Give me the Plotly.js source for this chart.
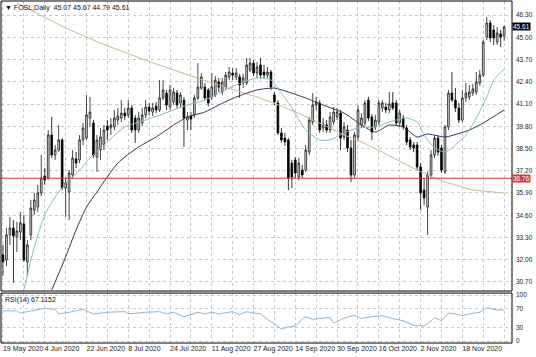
<!DOCTYPE html>
<html>
<head>
<meta charset="utf-8">
<script src="https://cdn.plot.ly/plotly-3.0.1.min.js"></script>
<style>html,body{margin:0;padding:0;background:#fff;}#chart{width:536px;height:357px;}</style>
</head>
<body>
<div id="chart"></div>
<script>
// ---- data (bar index 0 = 19 May 2020) ----
const openP = [
32.28,31.98,33.45,33.85,33.33,33.62,34.09,31.87,33.45,34.91,
35.08,35.90,36.89,36.78,39.29,38.12,38.41,39.00,36.19,35.96,
36.95,37.89,37.83,39.00,39.11,40.28,39.99,38.00,38.41,38.70,
39.81,39.70,39.76,40.16,40.28,40.57,40.46,40.87,40.28,39.58,
39.99,40.46,40.92,40.63,40.98,40.75,41.45,41.74,40.92,41.22,
41.74,41.16,41.33,40.16,40.40,40.46,41.45,42.03,42.09,41.92,
41.51,41.63,42.38,41.80,42.09,42.68,42.91,42.68,42.68,42.33,
42.33,43.09,43.49,42.91,43.38,42.97,42.79,42.97,41.63,41.16,
39.41,39.11,39.00,37.65,37.83,36.83,37.24,37.24,38.29,40.05,
41.04,41.16,39.70,39.87,39.58,40.05,40.34,40.57,39.17,39.58,
38.53,36.95,39.17,39.87,39.99,41.33,40.34,39.76,40.05,40.87,
40.92,40.75,41.16,41.16,39.99,40.28,39.70,39.00,38.70,38.70,
37.42,36.07,35.08,36.95,38.12,39.11,38.53,37.13,39.76,41.74,
41.33,40.87,40.16,41.45,41.51,41.74,41.80,42.33,42.79,45.01,
45.83,45.42,44.72,45.19,45.07];
const highP = [
32.86,33.85,34.50,34.32,34.21,34.79,34.61,33.15,35.49,35.90,
36.37,38.12,37.36,39.58,40.34,38.70,39.87,39.11,36.78,37.24,
38.41,38.29,39.29,39.99,41.63,41.51,40.16,39.29,39.70,39.87,
40.16,40.28,40.75,40.87,41.33,40.87,41.33,41.04,40.46,40.63,
40.87,41.33,41.16,41.16,41.22,42.50,42.50,41.92,42.21,42.03,
41.92,41.80,41.51,40.63,40.63,41.63,43.49,42.91,42.33,42.03,
42.91,42.73,42.62,42.62,42.97,43.26,43.20,43.20,42.85,42.85,
43.79,43.79,43.67,43.55,43.79,43.38,43.26,43.09,41.80,41.33,
39.70,39.41,39.11,37.83,38.00,37.94,37.54,38.70,40.34,41.74,
41.51,41.33,40.28,40.16,40.63,40.92,40.87,40.75,40.05,39.87,
39.00,39.46,41.04,40.57,41.33,41.51,40.51,40.46,41.33,41.33,
41.16,41.80,41.80,41.33,40.75,40.46,39.87,39.17,38.88,38.88,
37.65,36.78,37.13,38.41,39.29,39.29,38.70,39.87,41.92,42.97,
42.03,41.16,41.92,42.33,42.21,42.27,42.97,43.09,44.84,46.18,
46.01,45.71,45.60,45.42,45.67];
const lowP = [
31.05,31.63,32.86,30.64,32.45,33.15,31.87,31.05,33.15,34.61,
34.79,35.72,36.37,36.66,37.94,37.83,38.29,36.07,34.50,34.32,
36.78,37.36,37.65,38.70,39.00,39.76,37.94,37.13,37.83,38.41,
39.00,39.29,39.58,39.87,40.05,40.16,40.28,39.41,38.82,39.41,
39.81,40.28,40.46,40.40,40.57,40.63,41.33,40.75,40.75,41.04,
40.87,40.92,38.59,39.58,39.58,40.28,41.33,41.92,41.33,40.98,
41.33,41.51,41.80,41.63,41.92,42.50,42.50,42.50,41.45,42.03,
42.21,42.97,42.73,42.62,42.62,42.62,42.62,41.92,41.04,39.29,
38.82,38.65,36.07,36.19,36.78,36.66,36.78,37.13,38.12,39.87,
40.75,39.41,39.46,39.41,39.41,39.87,40.16,38.41,39.00,38.29,
36.54,36.78,39.00,39.70,39.81,40.11,39.00,39.58,39.87,40.63,
40.57,40.57,40.75,39.81,39.76,39.58,38.70,38.41,38.29,37.24,
34.91,35.20,33.45,36.78,37.94,38.06,37.07,37.01,39.58,41.22,
40.63,39.99,40.05,41.22,41.33,41.57,41.63,42.15,42.68,44.84,
44.72,44.55,44.55,44.43,44.79];
const closeP = [
31.87,33.45,33.85,33.39,33.68,34.15,31.98,32.86,35.02,35.49,
35.90,36.78,36.66,39.29,38.12,38.41,39.00,36.19,36.48,37.07,
37.94,37.65,39.00,39.70,40.46,40.63,38.12,39.00,39.17,39.58,
39.58,39.87,40.28,40.40,40.57,40.40,40.87,39.58,39.58,40.28,
40.46,40.92,40.69,40.87,40.75,41.45,41.92,41.04,41.92,41.80,
41.04,41.63,40.28,40.34,40.22,41.45,42.09,42.68,41.45,41.16,
42.09,42.50,42.09,42.38,42.79,42.97,42.79,42.91,42.21,42.62,
43.38,43.49,42.91,43.26,42.79,42.79,42.97,42.09,41.22,39.41,
39.00,38.88,36.78,36.83,37.07,37.65,36.95,38.41,40.16,41.04,
41.22,39.58,39.93,39.58,40.34,40.63,40.63,39.11,39.76,38.53,
36.95,39.29,40.75,40.28,41.16,40.28,39.46,40.16,41.16,41.16,
40.75,41.10,40.87,39.99,40.57,39.76,38.88,38.59,38.53,37.42,
35.90,35.61,36.95,38.12,39.11,38.29,37.24,39.76,41.74,41.33,
40.87,40.16,41.45,41.74,41.80,41.98,42.38,42.79,44.72,45.83,
44.96,44.96,45.25,45.01,45.61];

// moving averages (bar index, price)
const maFastIdx = [6,9,12,15,18,22,25,29,35,41,49,53,58,62,67,73,77,80,83,87,91,94,98,102,107,111,116,119,121,124,127,129,133,136,139,141,144];
const maFastVal = [30.23,32.74,34.61,35.67,36.43,37.24,37.94,38.70,39.76,40.16,40.75,41.04,41.33,41.74,42.21,42.62,42.50,41.74,40.87,39.58,39.00,39.00,39.41,39.70,39.76,40.05,40.28,40.05,39.29,38.53,38.29,38.53,39.29,40.28,41.51,42.50,43.14];
const maMidIdx = [14,18,21,24,27,33,39,44,49,53,58,62,67,73,78,82,87,92,98,103,107,111,115,119,122,127,134,138,144];
const maMidVal = [30.23,32.16,33.74,35.08,35.96,37.65,38.59,39.17,39.87,40.34,40.63,41.04,41.51,41.92,42.03,41.80,41.45,41.04,40.57,39.87,39.46,39.87,39.76,39.17,39.35,39.17,39.58,39.99,40.75];
const maSlowIdx = [4,18,28,40,49,60,73,80,88,98,103,109,116,122,127,135,144];
const maSlowVal = [47.00,45.54,44.66,43.73,43.09,42.33,41.51,40.98,40.28,39.29,38.88,38.29,37.54,36.95,36.54,36.07,35.90];

// RSI(14)
const rsiIdx = [0,4,5,9,12,15,16,19,23,26,30,35,36,41,45,47,49,52,56,58,60,62,66,68,70,72,74,76,78,80,82,84,86,87,89,91,94,95,98,101,103,106,109,112,115,118,121,123,124,126,128,130,132,134,137,139,140,142,144];
const rsiVal = [65.6,65.6,61,67.5,71,69,59,62.5,69,59,62.5,64,59,62.5,64,59,62.5,53,62.5,59,62.5,59,64,57.5,64,61,59,47,37.5,26,31,32,48,53,47,49,51,39,50,56,49,53,55,49,44,34,32.5,44,51,44,61,59,55,59,62.5,72,70,67.5,67.1152];

const dateLabels = ['19 May 2020','4 Jun 2020','22 Jun 2020','8 Jul 2020','24 Jul 2020','11 Aug 2020','27 Aug 2020','14 Sep 2020','30 Sep 2020','16 Oct 2020','2 Nov 2020','18 Nov 2020'];
const priceTicks = [30.70,32.00,33.30,34.60,35.90,37.20,38.50,39.80,41.10,42.40,43.70,45.00,46.30];
const rsiTicks = [0,30,70,100];
const levelLine = 36.76;
const lastPrice = 45.61;
const symbolTitle = 'FOSL,Daily';
const rsiTitle = 'RSI(14) 67.1152';

// ---- build ----
const barIdx = closeP.map((_, i) => i);
const xTickVals = [], xTickText = [];
for (let k = 0; k <= 144; k += 6) {
  xTickVals.push(k);
  xTickText.push(k % 12 === 0 && dateLabels[k / 12] ? dateLabels[k / 12] : '');
}

const FONT = 'Liberation Sans, Arial, sans-serif';
const mainDom = [0.152, 1];
const rsiDom = [0, 0.146];

const traces = [
  {type:'scatter', mode:'lines', x:maSlowIdx, y:maSlowVal, xaxis:'x', yaxis:'y',
   line:{color:'#cdb48e', width:1}, hoverinfo:'skip'},
  {type:'scatter', mode:'lines', x:maMidIdx, y:maMidVal, xaxis:'x', yaxis:'y',
   line:{color:'#33335c', width:1, shape:'spline', smoothing:0.6}, hoverinfo:'skip'},
  {type:'scatter', mode:'lines', x:maFastIdx, y:maFastVal, xaxis:'x', yaxis:'y',
   line:{color:'#86bdbd', width:1, shape:'spline', smoothing:0.6}, hoverinfo:'skip'},
  {type:'candlestick', x:barIdx, open:openP, high:highP, low:lowP, close:closeP,
   xaxis:'x', yaxis:'y', whiskerwidth:0,
   increasing:{line:{color:'#1a1a1a', width:0.8}, fillcolor:'#dcdcdc'},
   decreasing:{line:{color:'#000', width:0.8}, fillcolor:'#000'},
   hoverinfo:'skip'},
  {type:'scatter', mode:'lines', x:rsiIdx, y:rsiVal, xaxis:'x', yaxis:'y2',
   line:{color:'#8cb6d6', width:1}, hoverinfo:'skip'}
];

const gridStyle = {showgrid:true, gridcolor:'#c8c8c8', griddash:'dot', gridwidth:1, zeroline:false};

const layout = {
  width:536, height:357,
  margin:{l:1, r:24, t:1, b:14, pad:0},
  paper_bgcolor:'#fff', plot_bgcolor:'#fff',
  showlegend:false,
  font:{family:FONT, size:7, color:'#222'},
  xaxis:Object.assign({}, gridStyle, {
    range:[-0.57, 146.26], anchor:'y2', tickvals:xTickVals, ticktext:xTickText,
    ticks:'', tickangle:0, ticklabelposition:'outside right', ticklabelstandoff:0,
    tickfont:{size:7, family:FONT, color:'#222'},
    rangeslider:{visible:false}, showline:false, fixedrange:true, automargin:false
  }),
  yaxis:Object.assign({}, gridStyle, {
    domain:mainDom, range:[30.17, 47.12], side:'right', anchor:'x',
    tickvals:priceTicks, ticktext:priceTicks.map(v => v.toFixed(2)),
    ticks:'', ticklabelstandoff:3, tickfont:{size:6.5, family:FONT, color:'#222'},
    showline:false, fixedrange:true, automargin:false
  }),
  yaxis2:Object.assign({}, gridStyle, {
    domain:rsiDom, range:[-4.3, 104.3], side:'right', anchor:'x',
    tickvals:rsiTicks, ticktext:rsiTicks.map(String),
    ticks:'', ticklabelstandoff:3, tickfont:{size:6.5, family:FONT, color:'#222'},
    showline:false, fixedrange:true, automargin:false
  }),
  shapes:[
    {type:'line', xref:'paper', x0:0, x1:1, yref:'y', y0:levelLine, y1:levelLine,
     line:{color:'#d23a3a', width:1}},
    {type:'rect', xref:'paper', yref:'paper', x0:0, x1:1, y0:mainDom[0], y1:mainDom[1],
     line:{color:'#000', width:1}},
    {type:'rect', xref:'paper', yref:'paper', x0:0, x1:1, y0:rsiDom[0], y1:rsiDom[1],
     line:{color:'#000', width:1}}
  ],
  annotations:[
    {xref:'paper', yref:'paper', x:0.004, y:0.997, xanchor:'left', yanchor:'top', showarrow:false,
     text:'▼ ' + symbolTitle + '  ' + [openP[144], highP[144], lowP[144], closeP[144]].map(v => v.toFixed(2)).join(' '),
     font:{size:7, family:FONT, color:'#111'}},
    {xref:'paper', yref:'paper', x:0.004, y:rsiDom[1] - 0.004, xanchor:'left', yanchor:'top', showarrow:false,
     text:rsiTitle, font:{size:7, family:FONT, color:'#111'}},
    {xref:'paper', yref:'y', x:1, y:lastPrice, xanchor:'left', yanchor:'middle', showarrow:false,
     text:lastPrice.toFixed(2), bgcolor:'#000', borderpad:0, font:{size:6.5, family:FONT, color:'#fff'}},
    {xref:'paper', yref:'y', x:1, y:levelLine, xanchor:'left', yanchor:'middle', showarrow:false,
     text:levelLine.toFixed(2), bgcolor:'#d23a3a', borderpad:0, font:{size:6.5, family:FONT, color:'#fff'}}
  ]
};

Plotly.newPlot('chart', traces, layout, {staticPlot:true, displayModeBar:false});
</script>
</body>
</html>
